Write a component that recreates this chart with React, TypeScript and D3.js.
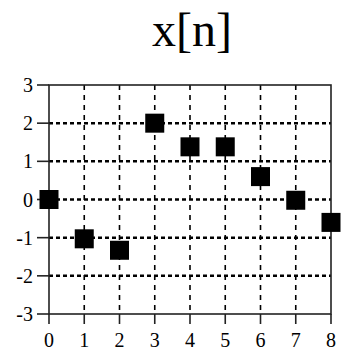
import React from 'react';
import * as d3 from 'd3';

const N_VALUES = [0, 1, 2, 3, 4, 5, 6, 7, 8];
const X_VALUES = [0, -1.03, -1.33, 2, 1.38, 1.38, 0.6, -0.02, -0.6];
const Y_TICKS = [-3, -2, -1, 0, 1, 2, 3];
const X_GRID = [1, 2, 3, 4, 5, 6, 7];
const Y_GRID = [-2, -1, 0, 1, 2];

const W = 343;
const H = 351;
const margin = { top: 85, right: 12, bottom: 37, left: 49 };

export default function App() {
  const x = d3.scaleLinear().domain([0, 8]).range([margin.left, W - margin.right]);
  const y = d3.scaleLinear().domain([-3, 3]).range([H - margin.bottom, margin.top]);
  const font = '"Liberation Serif", "Times New Roman", serif';
  const sq = 19;

  return (
    <svg
      width={W}
      height={H}
      style={{ position: 'absolute', left: 0, top: 0, background: '#fff' }}
    >
      <text x={192} y={46} textAnchor="middle" fontFamily={font} fontSize={48} fill="#000">
        x[n]
      </text>

      {/* grid */}
      {Y_GRID.map((v) => (
        <line
          key={'gy' + v}
          x1={x(0)}
          x2={x(8)}
          y1={y(v)}
          y2={y(v)}
          stroke="#000"
          strokeWidth={2.5}
          strokeDasharray="4,3"
        />
      ))}
      {X_GRID.map((v) => (
        <line
          key={'gx' + v}
          x1={x(v)}
          x2={x(v)}
          y1={y(3)}
          y2={y(-3)}
          stroke="#000"
          strokeWidth={1.6}
          strokeDasharray="5,5"
        />
      ))}

      {/* frame */}
      <rect
        x={x(0)}
        y={y(3)}
        width={x(8) - x(0)}
        height={y(-3) - y(3)}
        fill="none"
        stroke="#222"
        strokeWidth={1.6}
      />

      {/* y ticks */}
      {Y_TICKS.map((v) => (
        <g key={'ty' + v}>
          <line x1={x(0) - 12} x2={x(0)} y1={y(v)} y2={y(v)} stroke="#222" strokeWidth={1.6} />
          <text
            x={x(0) - 16}
            y={y(v)}
            dy="0.35em"
            textAnchor="end"
            fontFamily={font}
            fontSize={20}
            fill="#000"
          >
            {v}
          </text>
        </g>
      ))}

      {/* x ticks */}
      {N_VALUES.map((v) => (
        <g key={'tx' + v}>
          <line x1={x(v)} x2={x(v)} y1={y(-3)} y2={y(-3) + 10} stroke="#222" strokeWidth={1.6} />
          <text
            x={x(v)}
            y={y(-3) + 33}
            textAnchor="middle"
            fontFamily={font}
            fontSize={20}
            fill="#000"
          >
            {v}
          </text>
        </g>
      ))}

      {/* markers */}
      {N_VALUES.map((n, i) => (
        <rect
          key={'m' + n}
          x={x(n) - sq / 2}
          y={y(X_VALUES[i]) - sq / 2}
          width={sq}
          height={sq}
          fill="#000"
        />
      ))}
    </svg>
  );
}
